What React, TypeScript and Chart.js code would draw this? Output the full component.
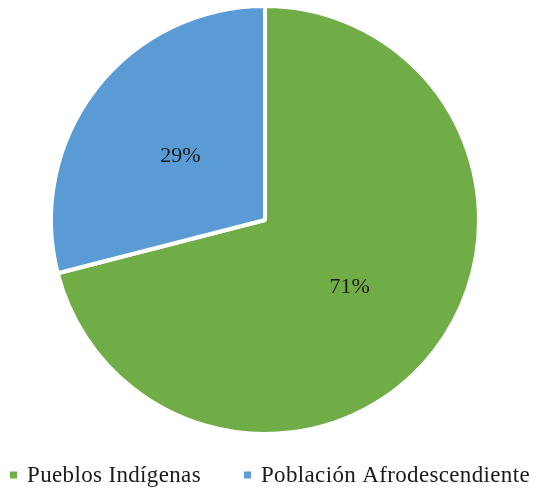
import React, { useEffect, useRef } from 'react';
import { Chart, registerables } from 'chart.js';

Chart.register(...registerables);

const categories: string[] = ['Pueblos Indígenas', 'Población Afrodescendiente'];
const values: number[] = [71, 29];
const colors: string[] = ['#70AD47', '#5B9BD5'];

const FONT = '"Liberation Serif", "Times New Roman", serif';

const valueLabels = {
  id: 'valueLabels',
  afterDatasetsDraw(chart: any) {
    const ctx = chart.ctx;
    const meta = chart.getDatasetMeta(0);
    ctx.save();
    ctx.font = `22px ${FONT}`;
    ctx.fillStyle = '#1a1a1a';
    ctx.textAlign = 'center';
    ctx.textBaseline = 'middle';
    meta.data.forEach((arc: any, i: number) => {
      const p = arc.tooltipPosition();
      ctx.fillText(`${chart.data.datasets[0].data[i]}%`, p.x, p.y + 2);
    });
    ctx.restore();
  },
};

const bottomLegend = {
  id: 'bottomLegend',
  afterDraw(chart: any) {
    const ctx = chart.ctx;
    const labels: string[] = chart.data.labels;
    const bg: string[] = chart.data.datasets[0].backgroundColor;
    const box = 7;
    const gapBox = 10;
    const gapItem = 43;
    const y = 475;
    ctx.save();
    ctx.font = `23px ${FONT}`;
    try { (ctx as any).letterSpacing = '0.35px'; } catch (e) {}
    const widths = labels.map((l) => ctx.measureText(l).width);
    const total = widths.reduce((s, w) => s + box + gapBox + w, 0) + gapItem * (labels.length - 1);
    const cx = (chart.chartArea.left + chart.chartArea.right) / 2 + 5;
    let x = cx - total / 2;
    ctx.textBaseline = 'middle';
    ctx.textAlign = 'left';
    labels.forEach((l, i) => {
      ctx.fillStyle = bg[i];
      ctx.fillRect(x, y - box / 2, box, box);
      x += box + gapBox;
      ctx.fillStyle = '#1a1a1a';
      ctx.fillText(l, x, y + 1);
      x += widths[i] + gapItem;
    });
    ctx.restore();
  },
};

export default function App() {
  const ref = useRef<HTMLCanvasElement | null>(null);
  useEffect(() => {
    if (!ref.current) return;
    const chart = new Chart(ref.current, {
      type: 'pie',
      data: {
        labels: categories,
        datasets: [
          {
            data: values,
            backgroundColor: colors,
            borderColor: '#ffffff',
            borderWidth: 4,
          },
        ],
      },
      options: {
        animation: false,
        responsive: true,
        maintainAspectRatio: false,
        layout: { padding: { top: 4, left: 0, right: 6, bottom: 64 } },
        plugins: {
          legend: { display: false },
          tooltip: { enabled: false },
        },
      },
      plugins: [valueLabels, bottomLegend],
    });
    return () => chart.destroy();
  }, []);
  return (
    <div style={{ position: 'fixed', left: 0, top: 0, width: 536, height: 500, background: '#fff' }}>
      <canvas ref={ref} />
    </div>
  );
}
